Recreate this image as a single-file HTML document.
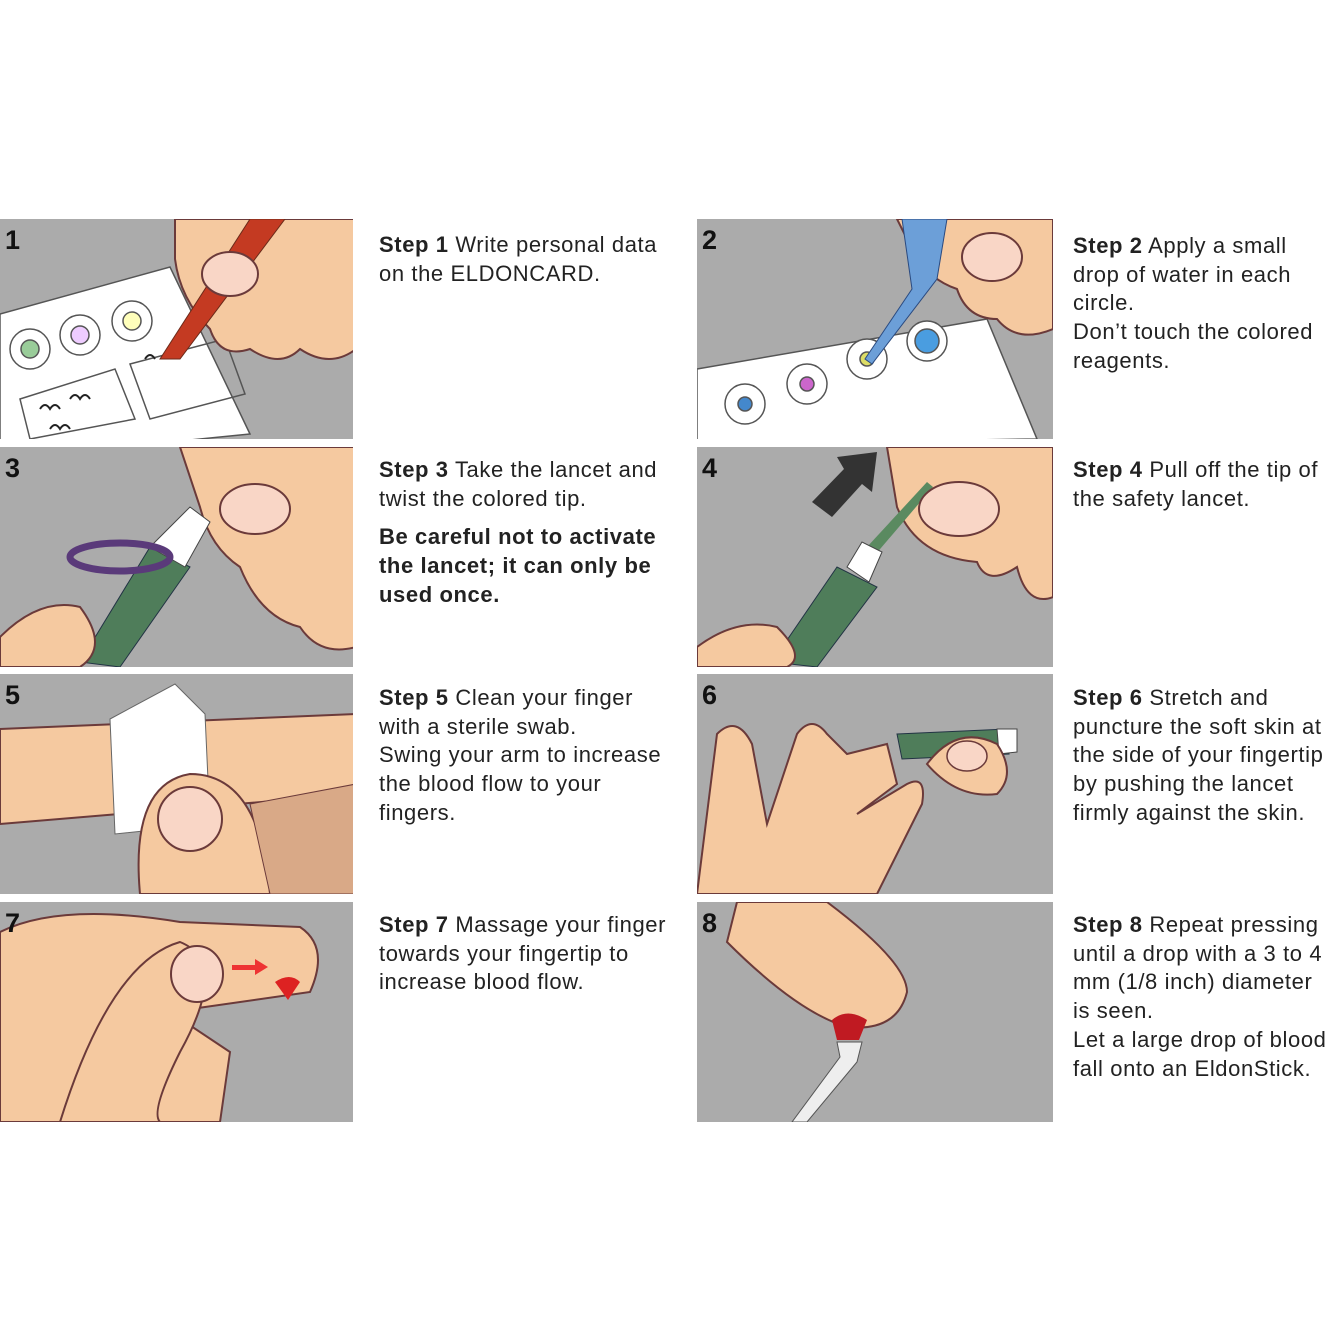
<!DOCTYPE html>
<html><head><meta charset="utf-8"><style>
body{margin:0;background:#fff;width:1340px;height:1340px;position:relative;overflow:hidden;font-family:"Liberation Sans",Arial,sans-serif}
.p{position:absolute;width:356px;height:220px;background:#ababab;overflow:hidden}
.p svg{position:absolute;left:0;top:0}
.n{position:absolute;left:5px;top:6px;font-weight:bold;font-size:27px;color:#111;z-index:2}
.t{position:absolute;font-size:22px;letter-spacing:0.6px;line-height:28.7px;color:#222;white-space:nowrap}
.t b{font-weight:bold}
</style></head><body>

<div class="p" style="left:0;top:219px;width:353px">
<svg width="356" height="220"><g stroke="#555" stroke-width="1.5">
<polygon points="0,95 170,48 250,215 0,240" fill="#fff"/>
<circle cx="30" cy="130" r="20" fill="#fff"/><circle cx="30" cy="130" r="9" fill="#9c9"/>
<circle cx="80" cy="116" r="20" fill="#fff"/><circle cx="80" cy="116" r="9" fill="#ecf"/>
<circle cx="132" cy="102" r="20" fill="#fff"/><circle cx="132" cy="102" r="9" fill="#ffb"/>
<polygon points="20,180 115,150 135,200 30,220" fill="none"/>
<polygon points="130,145 225,120 245,175 150,200" fill="none"/></g>
<path d="M40 190 q5-8 10 0 q5-8 10 0 M70 180q5-8 10 0q5-8 10 0 M50 210 q5-8 10 0q5-8 10 0 M145 140q5-8 10 0" stroke="#222" stroke-width="2" fill="none"/>
<path d="M175 0 L356 0 L356 130 Q330 150 300 130 Q280 150 250 130 Q220 140 210 110 Q180 80 175 40Z" fill="#f5c9a0" stroke="#6b3a3a" stroke-width="2"/>
<path d="M160 140 L250 0 L285 0 L180 140Z" fill="#c43a22" stroke="#6b2a1a"/>
<ellipse cx="230" cy="55" rx="28" ry="22" fill="#f9d6c6" stroke="#6b3a3a" stroke-width="2"/>
</svg><div class="n">1</div></div>
<div class="t" style="left:379px;top:231px"><b>Step 1</b> Write personal data<br>on the ELDONCARD.</div>

<div class="p" style="left:697px;top:219px">
<svg width="356" height="220"><g stroke="#555" stroke-width="1.5">
<polygon points="0,150 290,100 340,220 0,225" fill="#fff"/>
<circle cx="48" cy="185" r="20" fill="#fff"/><circle cx="48" cy="185" r="7" fill="#48c"/>
<circle cx="110" cy="165" r="20" fill="#fff"/><circle cx="110" cy="165" r="7" fill="#c6c"/>
<circle cx="170" cy="140" r="20" fill="#fff"/><circle cx="170" cy="140" r="7" fill="#dd6"/>
<circle cx="230" cy="122" r="20" fill="#fff"/><circle cx="230" cy="122" r="12" fill="#4a9de0"/></g>
<path d="M200 0 L356 0 L356 110 Q320 125 300 100 Q270 100 260 70 Q230 60 215 30Z" fill="#f5c9a0" stroke="#6b3a3a" stroke-width="2"/>
<path d="M205 0 L250 0 L240 60 L175 145 L168 140 L215 70Z" fill="#6c9fd8" stroke="#2a4a80"/>
<ellipse cx="295" cy="38" rx="30" ry="24" fill="#f9d6c6" stroke="#6b3a3a" stroke-width="2"/>
</svg><div class="n">2</div></div>
<div class="t" style="left:1073px;top:232px"><b>Step 2</b> Apply a small<br>drop of water in each<br>circle.<br>Don’t touch the colored<br>reagents.</div>

<div class="p" style="left:0;top:447px;width:353px">
<svg width="356" height="220">
<path d="M180 0 L356 0 L356 200 Q320 210 300 180 Q260 170 240 120 Q210 100 200 60Z" fill="#f5c9a0" stroke="#6b3a3a" stroke-width="2"/>
<path d="M80 215 L150 100 L190 120 L120 220Z" fill="#4f7d5a" stroke="#234"/>
<path d="M150 100 L190 60 L210 75 L185 120Z" fill="#fff" stroke="#444"/>
<ellipse cx="120" cy="110" rx="50" ry="14" fill="none" stroke="#5a3a7a" stroke-width="7"/>
<ellipse cx="255" cy="62" rx="35" ry="25" fill="#f9d6c6" stroke="#6b3a3a" stroke-width="2"/>
<path d="M0 190 Q40 150 80 160 Q110 200 80 220 L0 220Z" fill="#f5c9a0" stroke="#6b3a3a" stroke-width="2"/>
</svg><div class="n">3</div></div>
<div class="t" style="left:379px;top:456px"><b>Step 3</b> Take the lancet and<br>twist the colored tip.<div style="font-weight:bold;margin-top:10px">Be careful not to activate<br>the lancet; it can only be<br>used once.</div></div>

<div class="p" style="left:697px;top:447px">
<svg width="356" height="220">
<polygon points="140,10 180,5 175,45 165,37 135,70 115,55 147,22" fill="#333"/>
<path d="M190 0 L356 0 L356 150 Q330 160 320 120 Q290 140 280 115 Q220 110 200 60Z" fill="#f5c9a0" stroke="#6b3a3a" stroke-width="2"/>
<path d="M170 100 L230 35 L236 40 L178 108Z" fill="#5a8a60"/>
<path d="M75 215 L140 120 L180 140 L120 220Z" fill="#4f7d5a" stroke="#234"/>
<path d="M150 120 L165 95 L185 105 L172 135Z" fill="#fff" stroke="#444"/>
<ellipse cx="262" cy="62" rx="40" ry="27" fill="#f9d6c6" stroke="#6b3a3a" stroke-width="2"/>
<path d="M0 200 Q40 170 80 180 Q110 210 90 220 L0 220Z" fill="#f5c9a0" stroke="#6b3a3a" stroke-width="2"/>
</svg><div class="n">4</div></div>
<div class="t" style="left:1073px;top:456px"><b>Step 4</b> Pull off the tip of<br>the safety lancet.</div>

<div class="p" style="left:0;top:674px;width:353px">
<svg width="356" height="220">
<path d="M0 55 L356 40 L356 120 L0 150Z" fill="#f5c9a0" stroke="#6b3a3a" stroke-width="2"/>
<path d="M110 45 L175 10 L205 40 L210 150 L115 160Z" fill="#fff" stroke="#666"/>
<path d="M140 220 Q130 110 190 100 Q260 100 270 220Z" fill="#f5c9a0" stroke="#6b3a3a" stroke-width="2"/>
<path d="M250 130 L356 110 L356 220 L270 220Z" fill="#d9a987" stroke="#6b3a3a"/>
<ellipse cx="190" cy="145" rx="32" ry="32" fill="#f9d6c6" stroke="#6b3a3a" stroke-width="2"/>
</svg><div class="n">5</div></div>
<div class="t" style="left:379px;top:684px"><b>Step 5</b> Clean your finger<br>with a sterile swab.<br>Swing your arm to increase<br>the blood flow to your<br>fingers.</div>

<div class="p" style="left:697px;top:674px">
<svg width="356" height="220">
<path d="M0 220 L20 60 Q40 40 55 70 L70 150 L100 60 Q115 40 130 60 L150 80 L190 70 L200 110 L160 140 L210 110 Q230 100 225 130 L180 220Z" fill="#f5c9a0" stroke="#6b3a3a" stroke-width="2"/>
<path d="M200 60 L310 55 L312 80 L205 85Z" fill="#4f7d5a" stroke="#234"/>
<path d="M300 55 L320 55 L320 78 L302 80Z" fill="#fff" stroke="#444"/>
<path d="M230 90 Q260 50 300 70 Q320 100 300 120 Q260 125 230 90Z" fill="#f5c9a0" stroke="#6b3a3a" stroke-width="2"/>
<ellipse cx="270" cy="82" rx="20" ry="15" fill="#f9d6c6" stroke="#6b3a3a" stroke-width="1.5"/>
</svg><div class="n">6</div></div>
<div class="t" style="left:1073px;top:684px"><b>Step 6</b> Stretch and<br>puncture the soft skin at<br>the side of your fingertip<br>by pushing the lancet<br>firmly against the skin.</div>

<div class="p" style="left:0;top:902px;width:353px">
<svg width="356" height="220">
<path d="M0 30 Q60 0 180 20 L300 25 Q330 45 310 90 L170 110 L230 150 L220 220 L0 220Z" fill="#f5c9a0" stroke="#6b3a3a" stroke-width="2"/>
<path d="M60 220 Q110 60 180 40 Q230 60 180 150 Q150 210 160 220Z" fill="#f5c9a0" stroke="#6b3a3a" stroke-width="2"/>
<ellipse cx="197" cy="72" rx="26" ry="28" fill="#f9d6c6" stroke="#6b3a3a" stroke-width="2"/>
<path d="M232 63 L255 63 L255 57 L268 65 L255 73 L255 68 L232 68Z" fill="#e33"/>
<path d="M275 80 Q290 70 300 80 L288 98Z" fill="#d22"/>
</svg><div class="n">7</div></div>
<div class="t" style="left:379px;top:911px"><b>Step 7</b> Massage your finger<br>towards your fingertip to<br>increase blood flow.</div>

<div class="p" style="left:697px;top:902px">
<svg width="356" height="220">
<path d="M40 0 L130 0 Q210 60 210 90 Q200 130 150 125 Q100 110 30 40Z" fill="#f5c9a0" stroke="#6b3a3a" stroke-width="2"/>
<path d="M135 118 Q150 105 170 118 L162 138 L140 138Z" fill="#c01a22"/>
<path d="M140 140 L165 140 L160 160 L110 220 L95 220 L143 155Z" fill="#eee" stroke="#555"/>
</svg><div class="n">8</div></div>
<div class="t" style="left:1073px;top:911px"><b>Step 8</b> Repeat pressing<br>until a drop with a 3 to 4<br>mm (1/8 inch) diameter<br>is seen.<br>Let a large drop of blood<br>fall onto an EldonStick.</div>

</body></html>
